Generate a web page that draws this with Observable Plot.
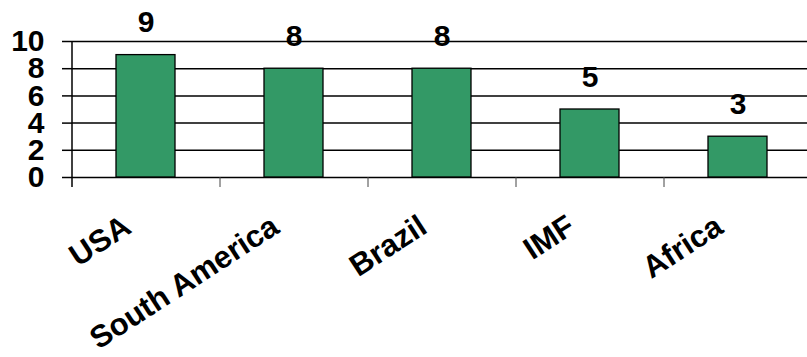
<!DOCTYPE html>
<html>
<head>
<meta charset="utf-8">
<script src="https://cdn.jsdelivr.net/npm/d3@7"></script>
<script src="https://cdn.jsdelivr.net/npm/@observablehq/plot@0.6"></script>
<style>
  html, body { margin: 0; padding: 0; background: #fff; }
  svg { display: block; }
</style>
</head>
<body>
<div id="chart"></div>
<script>
const categories = ["USA", "South America", "Brazil", "IMF", "Africa"];
const values = [9, 8, 8, 5, 3];
const yTicks = [0, 2, 4, 6, 8, 10];

const data = categories.map((c, i) => ({category: c, value: values[i]}));
const font = "Arial, 'Liberation Sans', sans-serif";
const step = 148;

const chart = Plot.plot({
  width: 807,
  height: 357,
  marginLeft: 72,
  marginRight: 0,
  marginTop: 41,
  marginBottom: 180,
  style: {fontFamily: font, fontWeight: "bold", background: "#fff", color: "#000"},
  x: {domain: categories, range: [72, 72 + step * categories.length], paddingInner: 0.6, paddingOuter: 0.3},
  y: {domain: [0, 10]},
  marks: [
    Plot.ruleY(yTicks, {stroke: "#000", strokeWidth: 1.5}),
    Plot.axisY({ticks: yTicks, tickSize: 10, tickPadding: 18, fontSize: 30, stroke: "#000", strokeWidth: 1.5, label: null}),
    Plot.ruleX([categories[0]], {dx: -step / 2, insetBottom: -10, stroke: "#000", strokeWidth: 1.5}),
    Plot.axisX({tickSize: 10, dx: step / 2, text: null, label: null, stroke: "#444", strokeWidth: 1}),
    Plot.barY(data, {x: "category", y: "value", fill: "#339966", stroke: "#000", strokeWidth: 1.3}),
    Plot.text(data, {x: "category", y: "value", text: d => String(d.value), fontSize: 30, fontWeight: "bold", lineAnchor: "bottom", dy: -23, fill: "#000"}),
    Plot.text(categories, {x: d => d, text: d => d, frameAnchor: "bottom", rotate: -33, textAnchor: "end", lineAnchor: "bottom", dx: -13, dy: 54, fontSize: 31, fontWeight: "bold", fill: "#000"})
  ]
});
document.getElementById("chart").appendChild(chart);
</script>
</body>
</html>
